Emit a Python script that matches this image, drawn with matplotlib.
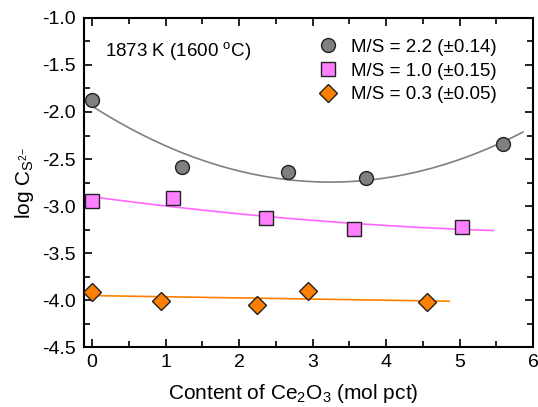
import matplotlib
matplotlib.use("Agg")
import matplotlib.pyplot as plt
import numpy as np
from matplotlib.ticker import MultipleLocator

plt.rcParams['font.family'] = ['Liberation Sans', 'DejaVu Sans']
plt.rcParams['mathtext.fontset'] = 'custom'
plt.rcParams['mathtext.rm'] = 'Liberation Sans'
plt.rcParams['mathtext.it'] = 'Liberation Sans:italic'

# sulfide capacity vs Ce2O3 content, three basicities
x_hi = [0.0, 1.23, 2.66, 3.72, 5.59]
y_hi = [-1.87, -2.585, -2.64, -2.70, -2.34]
x_mid = [0.0, 1.10, 2.36, 3.56, 5.03]
y_mid = [-2.95, -2.91, -3.13, -3.24, -3.22]
x_lo = [0.0, 0.94, 2.25, 2.94, 4.56]
y_lo = [-3.91, -4.01, -4.05, -3.90, -4.02]
labels = ['M/S = 2.2 (±0.14)', 'M/S = 1.0 (±0.15)', 'M/S = 0.3 (±0.05)']
fit_end = [5.86, 5.46, 4.86]
fit_deg = [2, 2, 1]

fig = plt.figure(figsize=(5.38, 4.07), dpi=100)
ax = fig.add_axes([0.156, 0.147, 0.835, 0.809])

series = [
    (x_hi, y_hi, 'o', '#808080', '#808080', 10),
    (x_mid, y_mid, 's', '#FF80FF', '#FF66FF', 9.5),
    (x_lo, y_lo, 'D', '#FF8000', '#FF8000', 9),
]
for (xs, ys, m, fc, lc, ms), lab, xe, deg in zip(series, labels, fit_end, fit_deg):
    p = np.polyfit(xs, ys, deg)
    xx = np.linspace(0, xe, 100)
    ax.plot(xx, np.polyval(p, xx), color=lc, lw=1.2, zorder=2)
    ax.plot(xs, ys, m, ms=ms, mfc=fc, mec='#222222', mew=1.0, ls='none',
            label=lab, zorder=3)

ax.set_xlim(-0.11, 6)
ax.set_ylim(-4.5, -1.0)
ax.xaxis.set_major_locator(MultipleLocator(1))
ax.xaxis.set_minor_locator(MultipleLocator(0.5))
ax.yaxis.set_minor_locator(MultipleLocator(0.25))
ax.set_yticks(np.arange(-4.5, -0.99, 0.5))
ax.set_yticklabels(['%.1f' % v for v in np.arange(-4.5, -0.99, 0.5)])
ax.tick_params(which='both', direction='in', top=True, right=True,
               labelsize=14, width=1.2)
ax.tick_params(which='major', length=6)
ax.tick_params(which='minor', length=4)
ax.tick_params(axis='y', pad=6)
ax.tick_params(axis='x', pad=5)
for s in ax.spines.values():
    s.set_linewidth(1.5)

ax.set_xlabel('Content of Ce$_2$O$_3$ (mol pct)', fontsize=15, labelpad=4)
ax.xaxis.set_label_coords(0.465, -0.105)
ax.set_ylabel('log C$_{\\mathrm{S}^{2\\mathrm{-}}}$', fontsize=15, labelpad=4)
ax.text(0.18, -1.35, '1873 K (1600 $^{\\mathrm{o}}$C)', fontsize=13.5,
        va='center')

ax.legend(loc='upper right', bbox_to_anchor=(0.935, 0.96), frameon=False,
          fontsize=13.5, handletextpad=0.6, labelspacing=0.36,
          borderaxespad=0.0, handlelength=1.2)

fig.savefig('out.png', dpi=100)
